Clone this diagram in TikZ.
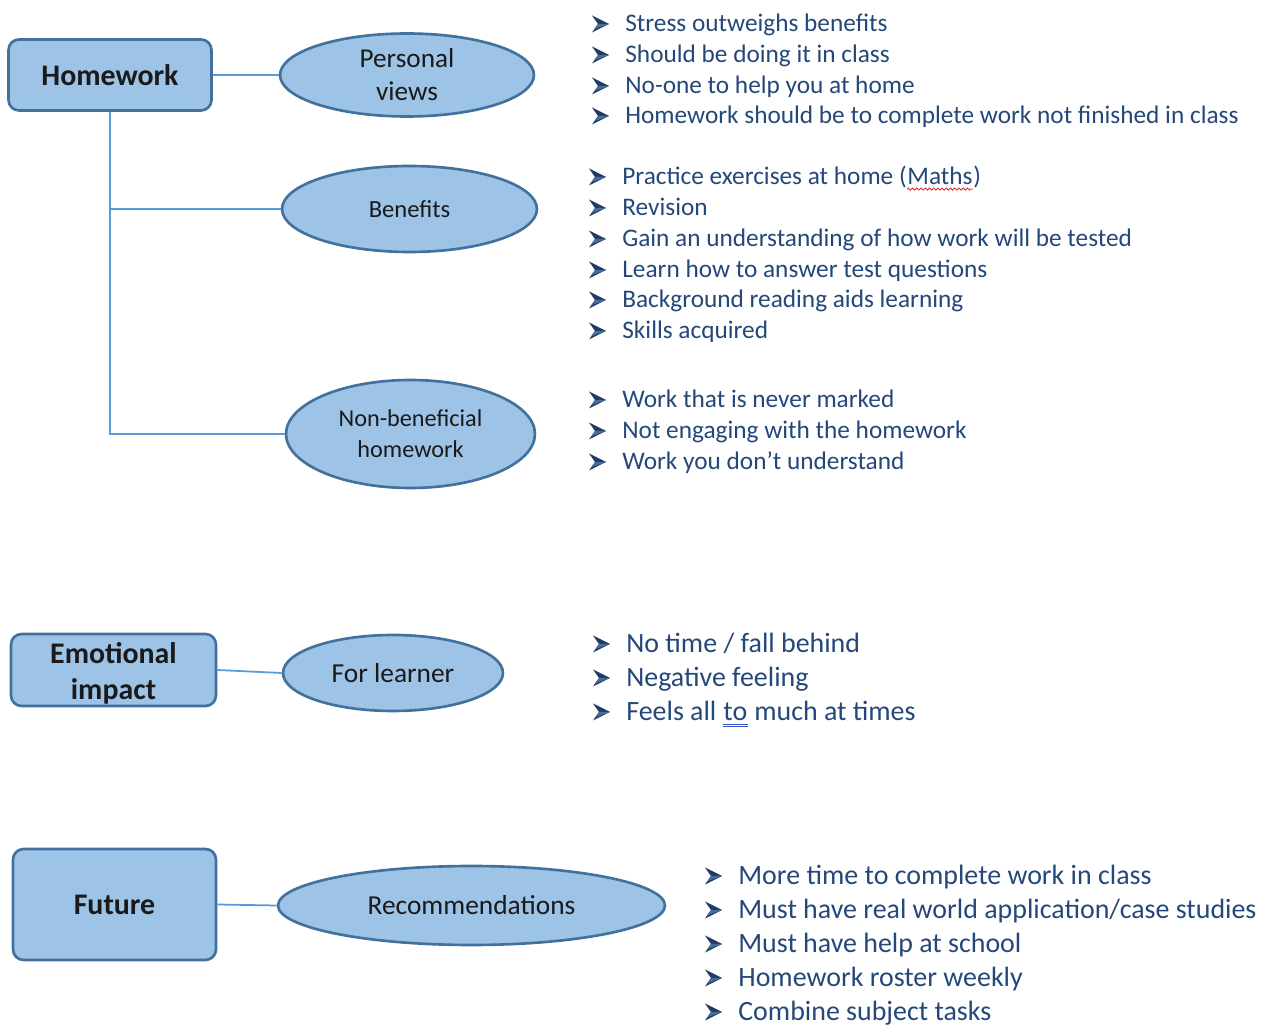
\documentclass[tikz,border=0pt]{standalone}
\usepackage{fontspec}
\setmainfont{Carlito}
\usetikzlibrary{shapes.geometric,decorations.pathmorphing}
\definecolor{boxfill}{HTML}{9DC3E6}
\definecolor{boxdraw}{HTML}{41719C}
\definecolor{linkc}{HTML}{5B9BD5}
\definecolor{txt}{HTML}{24487A}
\definecolor{darktxt}{HTML}{1A1A1A}
\definecolor{bulletc}{HTML}{1F3A64}
\definecolor{bulletl}{HTML}{4A6A9A}
\definecolor{spellred}{HTML}{E03030}
\definecolor{grammarblue}{HTML}{3F51C8}
\tikzset{
  box/.style={draw=boxdraw, line width=1.5pt, fill=boxfill, rounded corners=6pt,
    font=\bfseries\fontsize{17}{20.4}\selectfont, align=center, inner sep=0, text=darktxt},
  oval/.style={ellipse, draw=boxdraw, line width=1.5pt, fill=boxfill, inner sep=0,
    align=center, text=darktxt},
  link/.style={draw=linkc, line width=1pt},
  item/.style={anchor=base west, inner sep=0, text=txt},
  smallitem/.style={item, font=\fontsize{14.4}{17}\selectfont},
  bigitem/.style={item, font=\fontsize{15.9}{19}\selectfont},
  wavy/.style={draw=spellred, line width=0.5pt, decorate, decoration={snake, amplitude=0.6pt, segment length=2.4pt}},
  dbl/.style={draw=grammarblue, line width=0.5pt},
  arrowbullet/.pic={
    \fill[bulletc] (0,-8.5) -- (17,0) -- (0,8.5) -- (6,0) -- cycle;
    \fill[bulletl] (6,0) -- (17,0) -- (2.5,5.2) -- cycle;
  },
}
\begin{document}
\begin{tikzpicture}[x=0.02cm, y=-0.02cm]
\useasboundingbox (0,0) rectangle (1269,1026);
\fill[white] (0,0) rectangle (1269,1026);

% boxes
\node[box, minimum width=4.06cm, minimum height=1.42cm] (hw) at (110,75) {Homework};
\node[box, minimum width=4.1cm, minimum height=1.44cm] (ei) at (113.5,670) {\rule{0pt}{15.4pt}Emotional\\impact};
\node[box, minimum width=4.06cm, minimum height=2.22cm] (fu) at (114.5,904.5) {Future};

% ellipses
\node[oval, minimum width=5.08cm, minimum height=1.66cm, font=\fontsize{15.5}{18.7}\selectfont] (pv) at (407,75) {Personal\\views};
\node[oval, minimum width=5.1cm, minimum height=1.72cm, font=\fontsize{14}{17}\selectfont] (bn) at (409.5,209) {Benefits};
\node[oval, minimum width=4.98cm, minimum height=2.16cm, font=\fontsize{13.8}{17.6}\selectfont] (nb) at (410.5,434) {Non-beneficial\\homework};
\node[oval, minimum width=4.4cm, minimum height=1.52cm, font=\fontsize{15.6}{18}\selectfont] (fl) at (393,673) {For learner};
\node[oval, minimum width=7.74cm, minimum height=1.58cm, font=\fontsize{15.6}{18}\selectfont] (rc) at (471.5,905.5) {Recommendations};

% connectors
\draw[link] (hw.east) -- (pv.west);
\draw[link] (hw.south) |- (nb.west);
\draw[link] (hw.south |- bn.west) -- (bn.west);
\draw[link] (ei.east) -- (fl.west);
\draw[link] (fu.east) -- (rc.west);

% list 1
\node[smallitem] (a1) at (625,31.5) {Stress outweighs benefits};
\node[smallitem] (a2) at (625,62.5) {Should be doing it in class};
\node[smallitem] (a3) at (625,93.5) {No-one to help you at home};
\node[smallitem] (a4) at (625,123.5) {Homework should be to complete work not finished in class};

% list 2
\node[smallitem] (b1) at (622,184.5) {Practice exercises at home (};
\node[smallitem] (b1m) at (b1.base east) {Maths};
\node[smallitem] (b1e) at (b1m.base east) {)};
\draw[wavy] ([yshift=-2.6pt]b1m.base west) -- ([yshift=-2.6pt]b1m.base east);
\node[smallitem] (b2) at (622,215.5) {Revision};
\node[smallitem] (b3) at (622,246.5) {Gain an understanding of how work will be tested};
\node[smallitem] (b4) at (622,277.5) {Learn how to answer test questions};
\node[smallitem] (b5) at (622,307.5) {Background reading aids learning};
\node[smallitem] (b6) at (622,338.5) {Skills acquired};

% list 3
\node[smallitem] (c1) at (622,407.5) {Work that is never marked};
\node[smallitem] (c2) at (622,438.5) {Not engaging with the homework};
\node[smallitem] (c3) at (622,469.5) {Work you don’t understand};

\foreach \n in {a1,a2,a3,a4,b1,b2,b3,b4,b5,b6,c1,c2,c3}
  \pic at ([shift={(-33,-7.5)}]\n.base west) {arrowbullet};

% list 4
\node[bigitem] (d1) at (626,652.5) {No time / fall behind};
\node[bigitem] (d2) at (626,686.5) {Negative feeling};
\node[bigitem] (d3) at (626,720.5) {Feels all\ \hbox{}};
\node[bigitem] (d3t) at (d3.base east) {to};
\node[bigitem] (d3e) at (d3t.base east) {\hbox{}\ much at times};
\draw[dbl] ([yshift=-2.2pt]d3t.base west) -- ([yshift=-2.2pt]d3t.base east);
\draw[dbl] ([yshift=-3.6pt]d3t.base west) -- ([yshift=-3.6pt]d3t.base east);

% list 5
\node[bigitem] (e1) at (738,884.5) {More time to complete work in class};
\node[bigitem] (e2) at (738,918.5) {Must have real world application/case studies};
\node[bigitem] (e3) at (738,952.5) {Must have help at school};
\node[bigitem] (e4) at (738,986.5) {Homework roster weekly};
\node[bigitem] (e5) at (738,1020.5) {Combine subject tasks};

\foreach \n in {d1,d2,d3,e1,e2,e3,e4,e5}
  \pic at ([shift={(-33,-8.5)}]\n.base west) {arrowbullet};
\end{tikzpicture}
\end{document}
